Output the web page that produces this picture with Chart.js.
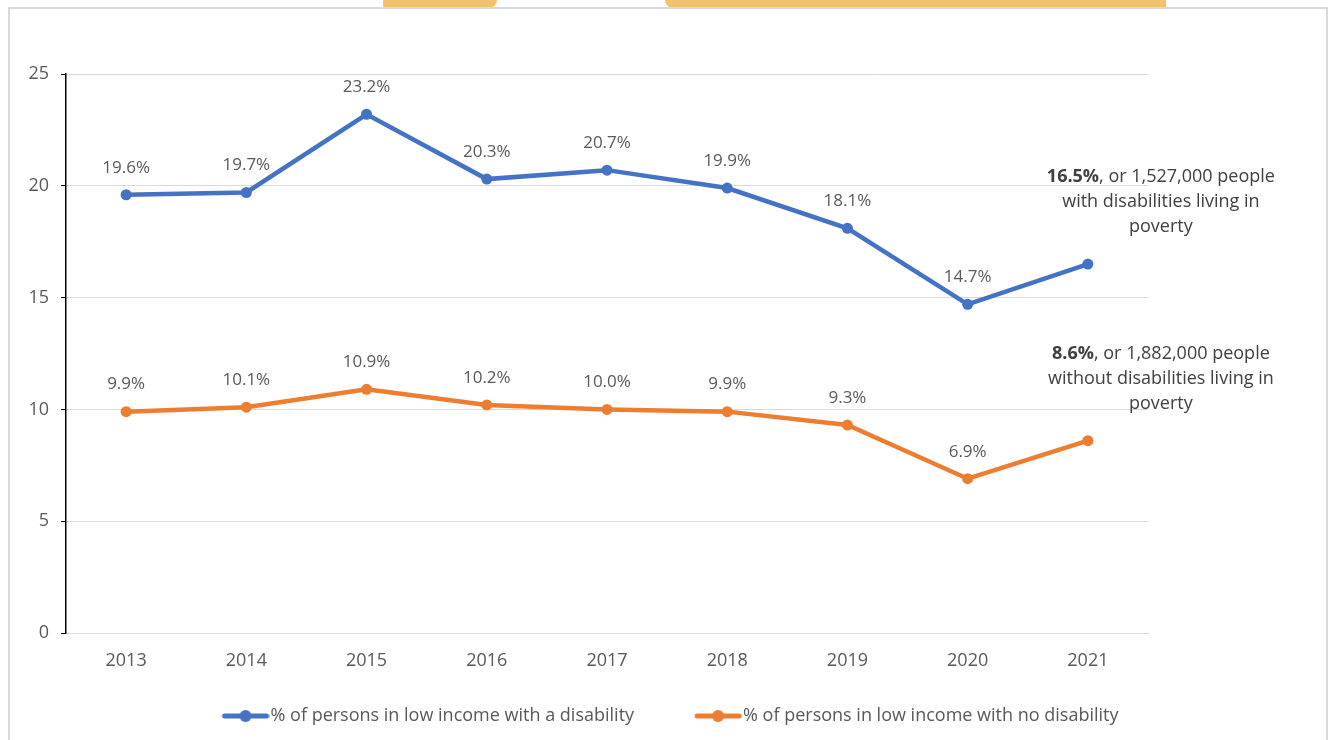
<!DOCTYPE html>
<html lang="en">
<head>
    <meta charset="UTF-8">
    <title>Persons in low income, with and without a disability</title>
    <script src="https://cdn.jsdelivr.net/npm/chart.js"></script>
    <style>
        body {
            margin: 0;
            padding: 0;
            background-color: #ffffff;
            font-family: "Open Sans", sans-serif;
        }
        .page {
            position: relative;
            width: 1331px;
            height: 740px;
            overflow: hidden;
        }
        /* bits of the gold banner peeking above the frame */
        .gold {
            position: absolute;
            top: 0;
            height: 8px;
            background-color: #f1c46c;
        }
        .frame {
            position: absolute;
            left: 8px;
            top: 7px;
            width: 1316px;
            height: 760px;
            border: 2px solid #d9d9d9;
            background-color: #ffffff;
        }
        #chart {
            position: absolute;
            left: 0;
            top: 0;
        }
    </style>
</head>
<body>
<div class="page">
    <div class="gold" style="left:383px; width:114px; border-radius:0 0 40px 0;"></div>
    <div class="gold" style="left:665px; width:501px; border-radius:0 0 0 40px;"></div>
    <div class="frame"></div>
    <canvas id="chart" width="1331" height="740"></canvas>
</div>

<script>
// Years on the x axis
const years = ["2013", "2014", "2015", "2016", "2017", "2018", "2019", "2020", "2021"];

// % of persons in low income
const withDisability = [19.6, 19.7, 23.2, 20.3, 20.7, 19.9, 18.1, 14.7, 16.5];
const noDisability = [9.9, 10.1, 10.9, 10.2, 10.0, 9.9, 9.3, 6.9, 8.6];

const seriesNames = ["% of persons in low income with a disability", "% of persons in low income with no disability"];
const seriesColors = ["#4472c4", "#ed7d31"];

// Notes written next to the 2021 points
const notes = [
    { bold: "16.5%", rest: ", or 1,527,000 people", lines: ["with disabilities living in", "poverty"] },
    { bold: "8.6%", rest: ", or 1,882,000 people", lines: ["without disabilities living in", "poverty"] }
];

const FONT = '"Open Sans", sans-serif';
const TEXT_GREY = "#595959";

// line + dot marker for the legend; the left half is left blank so the
// visible marker sits right against the text
function legendMarker(color) {
    const c = document.createElement("canvas");
    c.width = 96;
    c.height = 14;
    const g = c.getContext("2d");
    g.strokeStyle = color;
    g.lineWidth = 5;
    g.lineCap = "round";
    g.beginPath();
    g.moveTo(51, 7);
    g.lineTo(93, 7);
    g.stroke();
    g.fillStyle = color;
    g.beginPath();
    g.arc(72, 7, 6, 0, Math.PI * 2);
    g.fill();
    return c;
}

// Value labels above each point + the notes on the right
const labelsPlugin = {
    id: "valueLabels",
    afterDatasetsDraw(chart) {
        const ctx = chart.ctx;
        ctx.save();
        ctx.font = "17px " + FONT;
        ctx.fillStyle = TEXT_GREY;
        ctx.textAlign = "center";
        ctx.textBaseline = "middle";
        chart.data.datasets.forEach((ds, i) => {
            const meta = chart.getDatasetMeta(i);
            meta.data.forEach((pt, j) => {
                if (j === ds.data.length - 1) return; // last point has a note instead
                ctx.fillText(ds.data[j].toFixed(1) + "%", pt.x, pt.y - 27);
            });
        });

        // notes
        notes.forEach((note, i) => {
            const meta = chart.getDatasetMeta(i);
            const last = meta.data[meta.data.length - 1];
            const cx = last.x + 73;
            let y = last.y - 87;
            ctx.textAlign = "left";
            ctx.fillStyle = "#404040";
            ctx.font = "bold 18px " + FONT;
            const wb = ctx.measureText(note.bold).width;
            ctx.font = "18px " + FONT;
            const wr = ctx.measureText(note.rest).width;
            const x0 = cx - (wb + wr) / 2;
            ctx.font = "bold 18px " + FONT;
            ctx.fillText(note.bold, x0, y);
            ctx.font = "18px " + FONT;
            ctx.fillText(note.rest, x0 + wb, y);
            ctx.textAlign = "center";
            note.lines.forEach(line => {
                y += 25;
                ctx.fillText(line, cx, y);
            });
        });
        ctx.restore();
    }
};

const ctx = document.getElementById("chart").getContext("2d");

new Chart(ctx, {
    type: "line",
    data: {
        labels: years,
        datasets: [
            {
                label: seriesNames[0],
                data: withDisability,
                borderColor: seriesColors[0],
                backgroundColor: seriesColors[0],
                borderWidth: 4.5,
                pointRadius: 5.5,
                pointHoverRadius: 5.5,
                pointBorderWidth: 0,
                tension: 0,
                fill: false
            },
            {
                label: seriesNames[1],
                data: noDisability,
                borderColor: seriesColors[1],
                backgroundColor: seriesColors[1],
                borderWidth: 4.5,
                pointRadius: 5.5,
                pointHoverRadius: 5.5,
                pointBorderWidth: 0,
                tension: 0,
                fill: false
            }
        ]
    },
    options: {
        responsive: false,
        animation: false,
        layout: {
            padding: { left: 0, right: 31, top: 74, bottom: 5 }
        },
        scales: {
            x: {
                offset: true,
                grid: { display: false, drawTicks: false },
                border: { display: true, color: "#d9d9d9", width: 1 },
                ticks: {
                    color: TEXT_GREY,
                    font: { family: FONT, size: 18 },
                    padding: 17
                },
                afterFit(scale) { scale.height = 54; }
            },
            y: {
                min: 0,
                max: 25,
                ticks: {
                    stepSize: 5,
                    color: TEXT_GREY,
                    font: { family: FONT, size: 18 },
                    padding: 12
                },
                grid: {
                    color: "#d9d9d9",
                    lineWidth: 1,
                    tickColor: "#000000",
                    tickLength: 5
                },
                border: { display: true, color: "#000000", width: 1.5 },
                afterFit(scale) { scale.width = 66; }
            },
            // empty axis on the right, keeps room for the notes
            yRight: {
                position: "right",
                min: 0,
                max: 25,
                ticks: { display: false },
                grid: { display: false, drawTicks: false },
                border: { display: false },
                afterFit(scale) { scale.width = 152; }
            }
        },
        plugins: {
            legend: {
                position: "bottom",
                labels: {
                    color: TEXT_GREY,
                    font: { family: FONT, size: 18 },
                    usePointStyle: true,
                    pointStyleWidth: 80,
                    padding: 20,
                    generateLabels(chart) {
                        return chart.data.datasets.map((ds, i) => ({
                            text: ds.label,
                            fillStyle: ds.borderColor,
                            strokeStyle: ds.borderColor,
                            fontColor: TEXT_GREY,
                            pointStyle: legendMarker(ds.borderColor),
                            lineWidth: 0,
                            hidden: false,
                            datasetIndex: i
                        }));
                    }
                }
            },
            tooltip: { enabled: false }
        }
    },
    plugins: [labelsPlugin]
});
</script>
</body>
</html>
